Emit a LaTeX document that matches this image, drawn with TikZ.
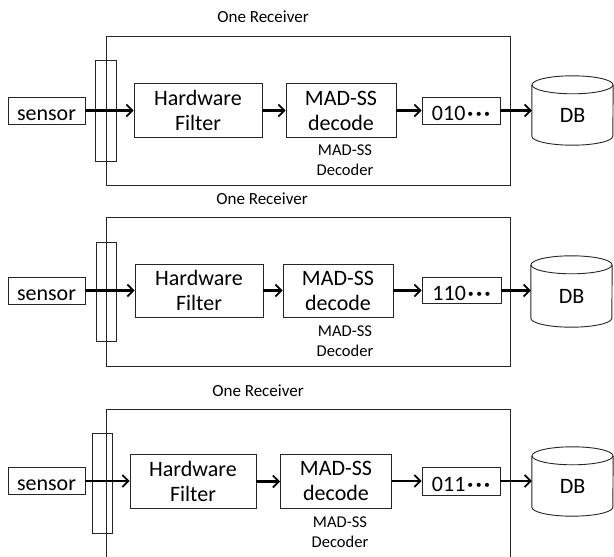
\documentclass[tikz,border=0pt]{standalone}
\usepackage{fontspec}
\setmainfont{Carlito}
\usetikzlibrary{arrows.meta,calc}

\tikzset{
  frame/.style={draw=black!85, line width=0.9pt, inner sep=0pt, fill=none},
  stage/.style={frame, align=center, font=\fontsize{22}{25}\selectfont},
  tag/.style={frame, text height=19pt, text depth=0pt, font=\fontsize{22}{25}\selectfont},
  bits/.style={frame, text height=20pt, text depth=0pt, font=\fontsize{22}{25}\selectfont},
  note/.style={align=center, inner sep=0pt, font=\fontsize{16.5}{20}\selectfont},
  heading/.style={inner sep=0pt, font=\fontsize{17}{20}\selectfont},
  store/.style={inner sep=0pt, text height=23pt, text depth=0pt, font=\fontsize{22}{25}\selectfont},
  flow/.style={line width=2.5pt, -{Straight Barb[length=6pt,width=12pt,line width=1.8pt]}},
}

% body of a database cylinder, drawn around a node named #1
\newcommand\cylbody[1]{%
  \draw[line width=0.9pt, draw=black!85] (#1.north west) -- (#1.south west)
    arc[start angle=180, end angle=360, x radius=40.5pt, y radius=9pt]
    -- (#1.north east);
  \draw[line width=0.9pt, draw=black!85] (#1.north) ellipse [x radius=40.5pt, y radius=9pt];
}

\newcommand\dotrow{\textbf{\kern2pt·\kern2.5pt·\kern2.5pt·}}

\begin{document}
\begin{tikzpicture}[x=1pt, y=-1pt]
\useasboundingbox (0,0) rectangle (614,557);
\clip (0,0) rectangle (614,557);

% ---------- first receiver ----------
\node[heading] (title1) at (263,17) {One Receiver};
\node[frame, minimum width=404, minimum height=149] (box1) at (308,110.5) {};
\node[frame, minimum width=21, minimum height=101] (bar1) at (105.5,110.5) {};
\node[tag, minimum width=77, minimum height=27] (sensor1) at (46.5,110.5) {sensor};
\node[stage, minimum width=128, minimum height=54] (hf1) at (198,110.5) {Hardware\\Filter};
\node[stage, minimum width=110, minimum height=54] (mad1) at (341,110.5) {MAD-SS\\decode};
\node[note] (lab1) at (345,160) {MAD-SS\\Decoder};
\node[bits, minimum width=78, minimum height=27] (bits1) at (461,110.5) {010\dotrow};
\node[store, minimum width=81, minimum height=51] (db1) at (572.5,110.5) {DB};
\cylbody{db1}
\draw[flow] (sensor1.east) -- (sensor1.east -| hf1.west);
\draw[flow] (hf1.east) -- (hf1.east -| mad1.west);
\draw[flow] (mad1.east) -- (mad1.east -| bits1.west);
\draw[flow] (bits1.east) -- (bits1.east -| db1.west);

% ---------- second receiver ----------
\node[heading] (title2) at (262,199) {One Receiver};
\node[frame, minimum width=404, minimum height=149] (box2) at (308,291.5) {};
\node[frame, minimum width=20, minimum height=99] (bar2) at (106,291.5) {};
\node[tag, minimum width=77, minimum height=27] (sensor2) at (46.5,290.5) {sensor};
\node[stage, minimum width=128, minimum height=53] (hf2) at (199,290.5) {Hardware\\Filter};
\node[stage, minimum width=110, minimum height=53] (mad2) at (338,290.5) {MAD-SS\\decode};
\node[note] (lab2) at (345,341) {MAD-SS\\Decoder};
\node[bits, minimum width=79, minimum height=26] (bits2) at (461.5,290.5) {110\dotrow};
\node[store, minimum width=81, minimum height=53] (db2) at (571.5,291.5) {DB};
\cylbody{db2}
\draw[flow] (sensor2.east) -- (sensor2.east -| hf2.west);
\draw[flow] (hf2.east) -- (hf2.east -| mad2.west);
\draw[flow] (mad2.east) -- (mad2.east -| bits2.west);
\draw[flow] (bits2.east) -- (bits2.east -| db2.west);

% ---------- third receiver ----------
\node[heading] (title3) at (258,391) {One Receiver};
\node[frame, minimum width=404, minimum height=161] (box3) at (308,489.5) {};
\node[frame, minimum width=20, minimum height=100] (bar3) at (102,483) {};
\node[tag, minimum width=77, minimum height=27] (sensor3) at (46.5,481) {sensor};
\node[stage, minimum width=126, minimum height=54] (hf3) at (193,481.5) {Hardware\\Filter};
\node[stage, minimum width=111, minimum height=54] (mad3) at (336,481) {MAD-SS\\decode};
\node[note] (lab3) at (340,532) {MAD-SS\\Decoder};
\node[bits, minimum width=78, minimum height=28] (bits3) at (461,481) {011\dotrow};
\node[store, minimum width=81, minimum height=51] (db3) at (572.5,481.5) {DB};
\cylbody{db3}
\draw[flow] (sensor3.east) -- (sensor3.east -| hf3.west);
\draw[flow] (hf3.east) -- (hf3.east -| mad3.west);
\draw[flow] (mad3.east) -- (mad3.east -| bits3.west);
\draw[flow] (bits3.east) -- (bits3.east -| db3.west);
\end{tikzpicture}
\end{document}
